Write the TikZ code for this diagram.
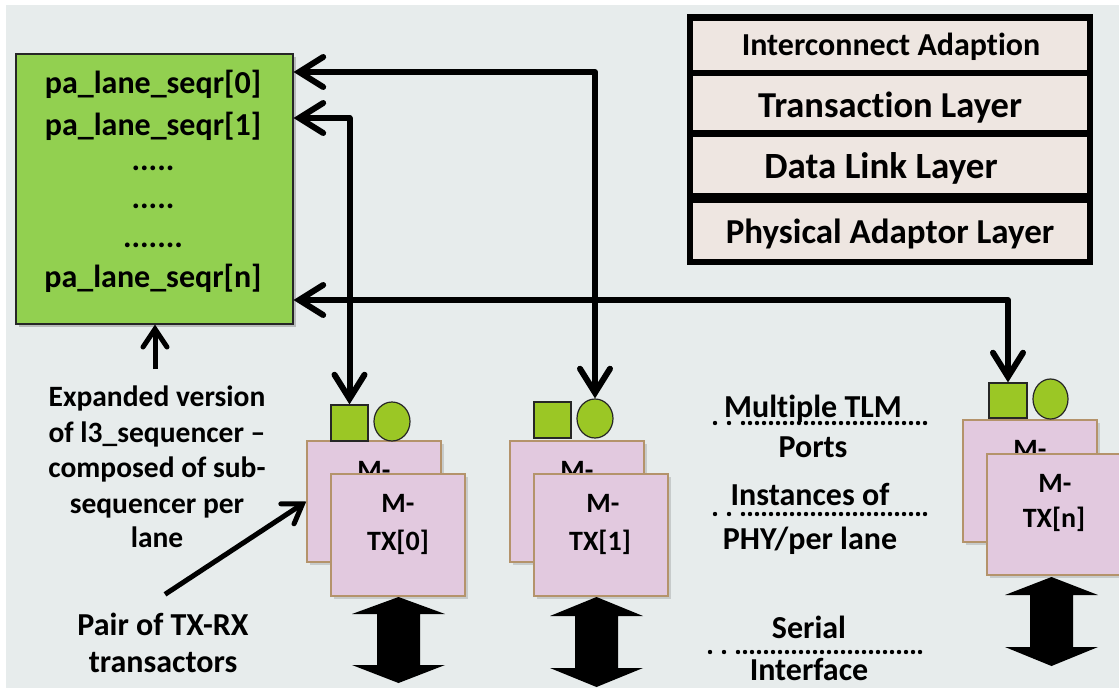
\documentclass[tikz,border=0pt]{standalone}
\usepackage{fontspec}
\setmainfont{Carlito}[Ligatures=NoCommon]
\usetikzlibrary{arrows.meta,shadows,shapes.geometric,calc}
\definecolor{bgc}{HTML}{E7ECEC}
\definecolor{seqgreen}{HTML}{92D050}
\definecolor{portgreen}{HTML}{9BC725}
\definecolor{phypink}{HTML}{E2C9DF}
\definecolor{phyedge}{HTML}{B4936B}
\definecolor{layerfill}{HTML}{EEE6E1}

\newcommand\txt[1]{\fontsize{#1}{#1}\selectfont\bfseries}
% double-headed serial block arrow: centre x, top tip, upper base, lower base, bottom tip
\newcommand\serialarrow[5]{%
  \fill (#1,#2) -- (#1+46.5,#3) -- (#1+21.5,#3) -- (#1+21.5,#4) -- (#1+46.5,#4)
    -- (#1,#5) -- (#1-46.5,#4) -- (#1-21.5,#4) -- (#1-21.5,#3) -- (#1-46.5,#3) -- cycle;}

\begin{document}
\begin{tikzpicture}[x=1pt,y=-1pt,
  lbl/.style={inner sep=0pt, anchor=base, font={\txt{32}}},
  small/.style={inner sep=0pt, anchor=base, font={\txt{28}}},
  note/.style={inner sep=0pt, anchor=base, font={\txt{29.5}}},
  layertxt/.style={inner sep=0pt, anchor=base},
  seqbox/.style={draw=black!85, line width=1.5pt, fill=seqgreen, inner sep=0pt,
    drop shadow={shadow xshift=3pt, shadow yshift=-3pt, opacity=0.45}},
  layerrow/.style={fill=layerfill, inner sep=0pt, minimum width=394pt},
  phybox/.style={draw=phyedge, line width=1.5pt, fill=phypink, inner sep=0pt,
    minimum width=134pt, minimum height=121pt,
    drop shadow={shadow xshift=3pt, shadow yshift=-3pt, opacity=0.3}},
  portsq/.style={draw=black!85, line width=1.2pt, fill=portgreen, inner sep=0pt},
  portc/.style={ellipse, draw=black!85, line width=1.2pt, fill=portgreen, inner sep=0pt,
    minimum width=36pt, minimum height=39pt},
  link/.style={line width=6pt, line join=round,
    {Straight Barb[length=24pt, width=30pt, line cap=round]}-{Straight Barb[length=24pt, width=30pt, line cap=round]}},
  pointer/.style={line width=5pt, -{Straight Barb[length=18pt, width=24pt, line cap=round]}},
  dotrow/.style={line width=4.4pt, line cap=round, dash pattern=on 0pt off 7pt},
  dotgap/.style={line width=4.4pt, line cap=round, dash pattern=on 0pt off 14pt}
]
\useasboundingbox (0,0) rectangle (1119,688);
\fill[bgc] (6,5) rectangle (1119,688);

% ---- protocol layer stack ----
\node[fill=black, inner sep=0pt, minimum width=406pt, minimum height=251pt, anchor=north west] (stack) at (687,14) {};
\node[layerrow, minimum height=49pt] (ia) at (890,45.5) {};
\node[layerrow, minimum height=54pt] (tl) at (890,103) {};
\node[layerrow, minimum height=56pt] (dl) at (890,165) {};
\node[layerrow, minimum height=56pt] (pa) at (890,231) {};
\node[layertxt, font={\txt{32}}] (iat) at (891,55) {Interconnect Adaption};
\node[layertxt, font={\txt{36.5}}] (tlt) at (890,117) {Transaction Layer};
\node[layertxt, font={\txt{37}}] (dlt) at (881,178) {Data Link Layer};
\node[layertxt, font={\txt{35}}] (pat) at (890,243) {Physical Adaptor Layer};

% ---- per-lane sequencer block ----
\node[seqbox, minimum width=277pt, minimum height=270pt, anchor=north west] (seqr) at (15,53) {};
\node[lbl] (q0) at (153,93) {pa\_lane\_seqr[0]};
\node[lbl] (q1) at (153,135) {pa\_lane\_seqr[1]};
\node[lbl] (qd1) at (153,170) {.....};
\node[lbl] (qd2) at (153,208) {.....};
\node[lbl] (qd3) at (153,247) {.......};
\node[lbl] (qn) at (153,287) {pa\_lane\_seqr[n]};
\coordinate (s0) at ($(seqr.north east)+(0,19)$);
\coordinate (s1) at ($(seqr.north east)+(0,65)$);
\coordinate (sn) at ($(seqr.north east)+(0,247)$);

% ---- lane 0 ----
\node[phybox] (rx0) at (374,501.5) {};
\node[small] (rx0t) at (374,479) {M-};
\node[phybox, minimum height=122pt] (tx0) at (398,535) {};
\node[small] (tx0a) at (398,512) {M-};
\node[small] (tx0b) at (398,550) {TX[0]};
\node[portsq, minimum width=37pt, minimum height=36pt] (p0sq) at (349.5,423) {};
\node[portc] (p0c) at (392,421.5) {};

% ---- lane 1 ----
\node[phybox] (rx1) at (577,501.5) {};
\node[small] (rx1t) at (577,479) {M-};
\node[phybox, minimum height=122pt] (tx1) at (601,535) {};
\node[small] (tx1a) at (603,512) {M-};
\node[small] (tx1b) at (600,550) {TX[1]};
\node[portsq, minimum width=37pt, minimum height=36pt] (p1sq) at (552.5,420) {};
\node[portc] (p1c) at (595,418.5) {};

% ---- lane n ----
\node[phybox, minimum height=122pt] (rxn) at (1030,481) {};
\node[small] (rxnt) at (1030,458) {M-};
\node[phybox] (txn) at (1054,514.5) {};
\node[small] (txna) at (1055,492) {M-};
\node[small] (txnb) at (1054,527) {TX[n]};
\node[portsq, minimum width=38pt, minimum height=35pt] (pnsq) at (1008,400.5) {};
\node[portc, minimum width=35pt, minimum height=40pt] (pnc) at (1050.5,399) {};

% ---- TLM connections ----
\draw[link] (p1c.north) |- (s0);
\draw[link] (p0sq.north) |- (s1);
\draw[link] (pnsq.north) |- (sn);

% ---- serial interface arrows ----
\serialarrow{398.5}{597}{614}{665}{683}
\serialarrow{596.5}{597}{616}{668}{687}
\serialarrow{1051.5}{577}{595}{647}{666}

% ---- annotations ----
\node[note] (e1) at (157,406) {Expanded version};
\node[note] (e2) at (157,442) {of l3\_sequencer –};
\node[note] (e3) at (157,477) {composed of sub-};
\node[note] (e4) at (157,513) {sequencer per};
\node[note] (e5) at (157,547) {lane};
\draw[pointer] ([xshift=-2pt,yshift=16pt]e1.north) -- ([xshift=-2pt]e1.north |- seqr.south);
\node[lbl] (pr1) at (163,635) {Pair of TX-RX};
\node[lbl] (pr2) at (163,672) {transactors};
\draw[pointer] ([xshift=2pt,yshift=18pt]pr1.north) -- (rx0.west);

\node[lbl] (m1) at (813,417) {Multiple TLM};
\node[lbl] (m2) at (813,457) {Ports};
\node[lbl] (i1) at (810,505) {Instances of};
\node[lbl] (i2) at (810,549) {PHY/per lane};
\node[lbl] (r1) at (809,638) {Serial};
\node[lbl] (r2) at (809,680) {Interface};
\draw[dotgap] (715,423) -- (729.5,423);
\draw[dotrow] (743,423) -- (926,423);
\draw[dotgap] (715,514) -- (729.5,514);
\draw[dotrow] (743,514) -- (926,514);
\draw[dotgap] (710,652) -- (724.5,652);
\draw[dotrow] (738,652) -- (921,652);
\end{tikzpicture}
\end{document}
